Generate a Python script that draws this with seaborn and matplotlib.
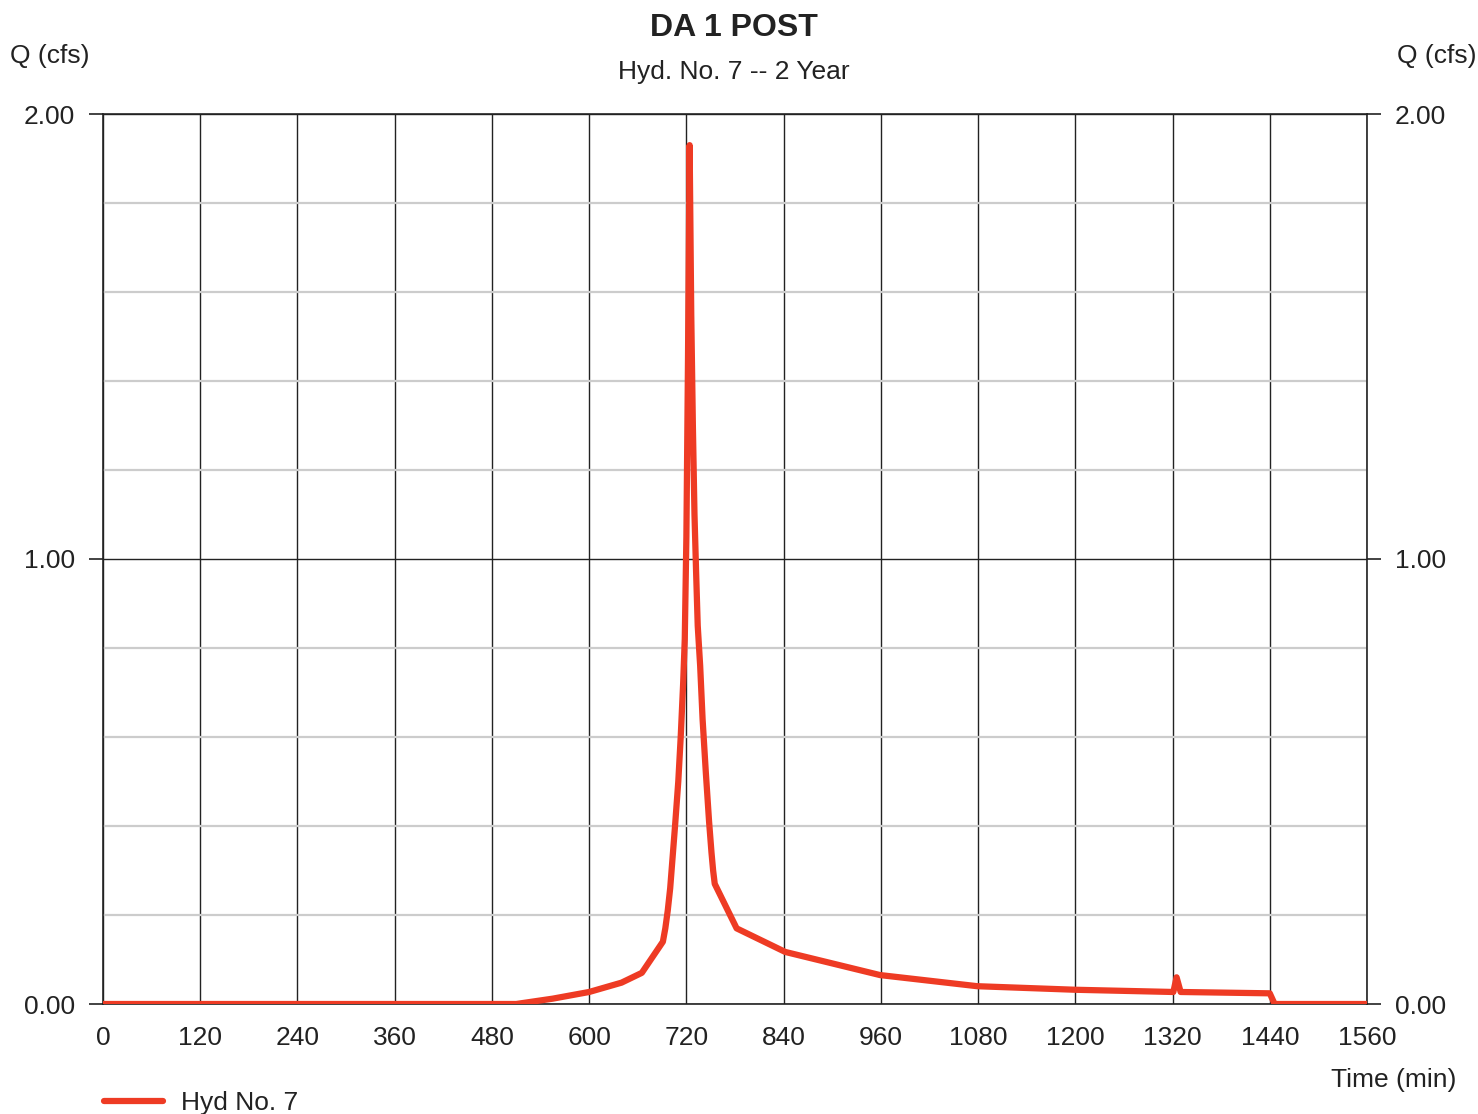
import matplotlib
matplotlib.use("Agg")
import matplotlib.pyplot as plt
import seaborn as sns
import pandas as pd
from matplotlib.ticker import MultipleLocator

# ---- data ----
time_min = [0, 510, 555, 600, 640, 665, 691, 694, 697, 700, 703, 706, 710, 713, 716,
            718, 720, 722, 724, 726, 728, 730, 732, 734, 737, 740, 744, 748, 751, 753,
            755, 782, 842, 959, 1079, 1200, 1321, 1325, 1330, 1440, 1446, 1560]
q_cfs = [0.0, 0.0, 0.012, 0.027, 0.048, 0.07, 0.14, 0.17, 0.21, 0.26, 0.33, 0.40, 0.50,
         0.60, 0.72, 0.82, 1.05, 1.45, 1.93, 1.55, 1.30, 1.10, 0.97, 0.85, 0.76, 0.64,
         0.52, 0.41, 0.34, 0.30, 0.27, 0.17, 0.117, 0.065, 0.040, 0.032, 0.027, 0.060,
         0.027, 0.024, 0.0, 0.0]
series_name = "Hyd No. 7"
x_ticks = list(range(0, 1561, 120))
y_major = [0.0, 1.0, 2.0]
y_labels = ["0.00", "1.00", "2.00"]

df = pd.DataFrame({"Time": time_min, "Q": q_cfs, "series": series_name})

sns.set_theme(style="white")
plt.rcParams["font.family"] = ["Liberation Sans", "DejaVu Sans"]

fig = plt.figure(figsize=(14.78, 11.14), dpi=100)
ax = fig.add_axes([103 / 1478, 1 - 1004 / 1114, 1264 / 1478, 890 / 1114])

line_color = "#EE3B24"
txt_color = "#222222"
fs = 19

# grid
ax.set_xlim(0, 1560)
ax.set_ylim(0, 2.0)
ax.xaxis.set_major_locator(MultipleLocator(120))
ax.set_yticks(y_major)
ax.yaxis.set_minor_locator(MultipleLocator(0.2))
ax.grid(which="major", axis="x", color="#222222", linewidth=1.0)
ax.grid(which="major", axis="y", color="#222222", linewidth=1.0)
ax.grid(which="minor", axis="y", color="#cccccc", linewidth=1.6)
ax.set_axisbelow(True)

sns.lineplot(data=df, x="Time", y="Q", ax=ax, color=line_color, linewidth=4.5,
             solid_capstyle="round", solid_joinstyle="round", label=series_name,
             legend=False, zorder=3)

for s in ax.spines.values():
    s.set_color("#222222")
    s.set_linewidth(1.2)
    s.set_visible(True)

ax.set_xticks(x_ticks)
ax.set_xticklabels([str(t) for t in x_ticks])
ax.set_yticklabels(y_labels)
ax.tick_params(axis="x", which="both", length=0, pad=16, labelsize=fs, labelcolor=txt_color)
ax.tick_params(axis="y", which="major", length=10, width=1.2, color="#222222", direction="out",
               pad=10, labelsize=fs, labelcolor=txt_color, left=True, right=True,
               labelleft=True, labelright=True)
ax.tick_params(axis="y", which="minor", length=0)
ax.set_xlabel("")
ax.set_ylabel("")

# titles and labels
fig.text(734 / 1478, 1 - 28 / 1114, "DA 1 POST", ha="center", va="center", fontsize=23,
         fontweight="bold", color=txt_color)
fig.text(734 / 1478, 1 - 72 / 1114, "Hyd. No. 7 -- 2 Year", ha="center", va="center",
         fontsize=fs, color=txt_color)
fig.text(50 / 1478, 1 - 56 / 1114, "Q (cfs)", ha="center", va="center", fontsize=fs,
         color=txt_color)
fig.text(1437 / 1478, 1 - 56 / 1114, "Q (cfs)", ha="center", va="center", fontsize=fs,
         color=txt_color)
fig.text(1456 / 1478, 1 - 1080 / 1114, "Time (min)", ha="right", va="center", fontsize=fs,
         color=txt_color)

# legend
handles, labels = ax.get_legend_handles_labels()
fig.legend(handles, labels, loc="center left", bbox_to_anchor=(93 / 1478, 1 - 1103 / 1114),
           frameon=False, fontsize=fs, handlelength=2.25, handletextpad=0.7,
           labelcolor=txt_color, borderaxespad=0)

fig.savefig("out.png", dpi=100)
